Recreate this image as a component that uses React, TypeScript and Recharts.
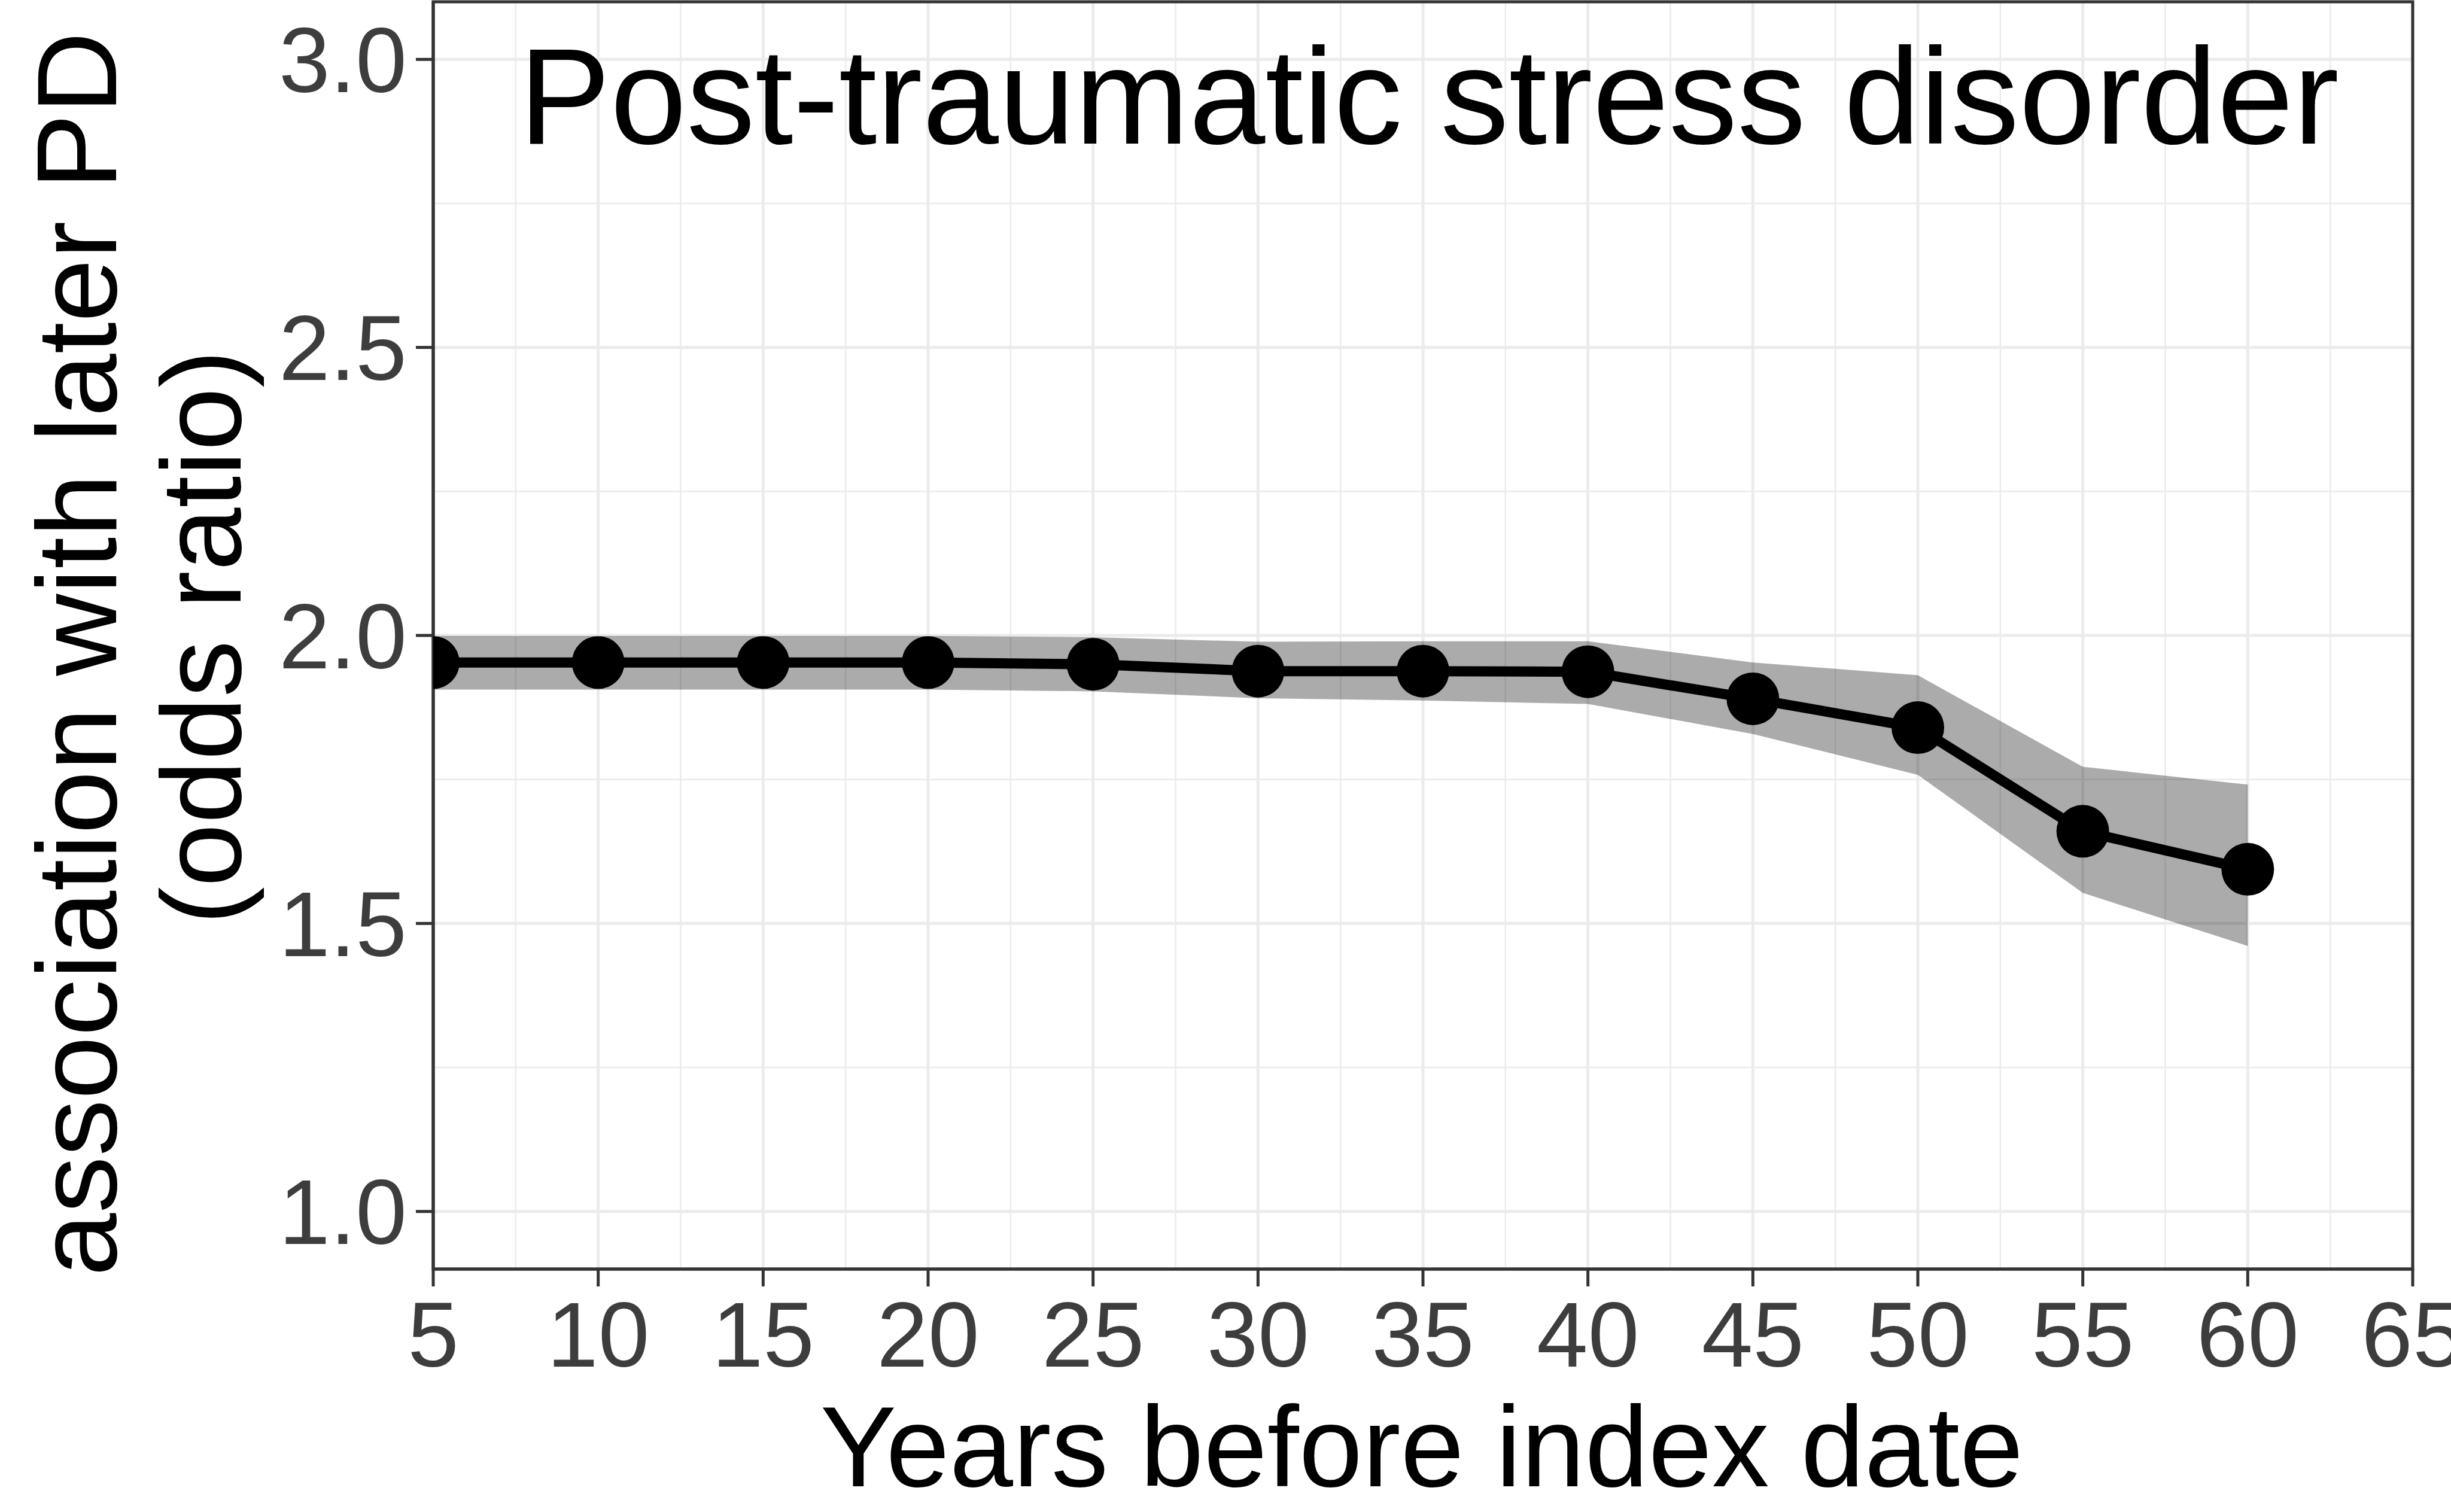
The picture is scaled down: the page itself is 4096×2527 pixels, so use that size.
import React from 'react';
import {
  ComposedChart,
  Area,
  Line,
  XAxis,
  YAxis,
  CartesianGrid,
  ReferenceArea,
} from 'recharts';

// years before index date
const years = [5, 10, 15, 20, 25, 30, 35, 40, 45, 50, 55, 60];
// odds ratio and 95% CI
const oddsRatio = [1.953, 1.953, 1.953, 1.953, 1.95, 1.938, 1.938, 1.937, 1.89, 1.84, 1.66, 1.594];
const lowerCI = [1.906, 1.906, 1.906, 1.906, 1.903, 1.891, 1.887, 1.881, 1.829, 1.758, 1.553, 1.461];
const upperCI = [1.999, 1.999, 1.999, 1.999, 1.997, 1.989, 1.99, 1.99, 1.953, 1.931, 1.772, 1.741];

const xMajor = [5, 10, 15, 20, 25, 30, 35, 40, 45, 50, 55, 60, 65];
const xMinor = [7.5, 12.5, 17.5, 22.5, 27.5, 32.5, 37.5, 42.5, 47.5, 52.5, 57.5, 62.5];
const yMajor = [1.0, 1.5, 2.0, 2.5, 3.0];
const yMinor = [1.25, 1.75, 2.25, 2.75];

const TITLE = 'Post-traumatic stress disorder';
const X_TITLE = 'Years before index date';
const Y_TITLE_1 = 'association with later PD';
const Y_TITLE_2 = '(odds ratio)';

const W = 4096;
const H = 2527;
const FONT = '"Liberation Sans", Arial, sans-serif';

const data = years.map((y, i) => ({
  year: y,
  or: oddsRatio[i],
  ci: [lowerCI[i], upperCI[i]],
}));

const App: React.FC = () => {
  const tickStyle = { fill: '#3D3D3D', fontSize: 154, fontFamily: FONT };

  return (
    <div style={{ position: 'absolute', left: 0, top: 0, width: W, height: H, background: '#fff' }}>
      <ComposedChart
        width={W}
        height={H}
        data={data}
        margin={{ top: 3, right: 64, bottom: 0, left: 0 }}
      >
        <CartesianGrid
          stroke="#EBEBEB"
          strokeWidth={2.5}
          horizontalValues={yMinor}
          verticalValues={xMinor}
        />
        <CartesianGrid
          stroke="#EBEBEB"
          strokeWidth={5}
          horizontalValues={yMajor}
          verticalValues={xMajor}
        />
        <XAxis
          dataKey="year"
          type="number"
          domain={[5, 65]}
          ticks={xMajor}
          interval={0}
          allowDataOverflow
          height={406}
          tick={tickStyle}
          tickSize={29}
          tickMargin={25}
          axisLine={{ stroke: '#333333', strokeWidth: 5 }}
          tickLine={{ stroke: '#333333', strokeWidth: 5 }}
        />
        <YAxis
          type="number"
          domain={[0.9, 3.1]}
          ticks={yMajor}
          interval={0}
          allowDataOverflow
          width={724}
          tick={tickStyle}
          tickSize={29}
          tickMargin={15}
          tickFormatter={(v: number) => v.toFixed(1)}
          axisLine={{ stroke: '#333333', strokeWidth: 5 }}
          tickLine={{ stroke: '#333333', strokeWidth: 5 }}
        />
        <Area
          dataKey="ci"
          type="linear"
          stroke="none"
          fill="#000000"
          fillOpacity={0.33}
          isAnimationActive={false}
          activeDot={false}
        />
        <Line
          dataKey="or"
          type="linear"
          stroke="#000000"
          strokeWidth={17}
          dot={{ r: 44, fill: '#000000', stroke: 'none' }}
          activeDot={false}
          isAnimationActive={false}
        />
        <ReferenceArea
          x1={5}
          x2={65}
          y1={0.9}
          y2={3.1}
          fill="none"
          stroke="#333333"
          strokeWidth={5}
          fillOpacity={0}
        />
      </ComposedChart>
      <svg
        width={W}
        height={H}
        style={{ position: 'absolute', left: 0, top: 0, pointerEvents: 'none' }}
      >
        <text x={2388} y={240} textAnchor="middle" fontSize={229} fontFamily={FONT} fill="#000">
          {TITLE}
        </text>
        <text x={2376} y={2484} textAnchor="middle" fontSize={191} fontFamily={FONT} fill="#000">
          {X_TITLE}
        </text>
        <text
          transform="translate(194,1093) rotate(-90)"
          textAnchor="middle"
          fontSize={190}
          fontFamily={FONT}
          fill="#000"
        >
          {Y_TITLE_1}
        </text>
        <text
          transform="translate(402,1065) rotate(-90)"
          textAnchor="middle"
          fontSize={190}
          fontFamily={FONT}
          fill="#000"
        >
          {Y_TITLE_2}
        </text>
      </svg>
    </div>
  );
};

export default App;
